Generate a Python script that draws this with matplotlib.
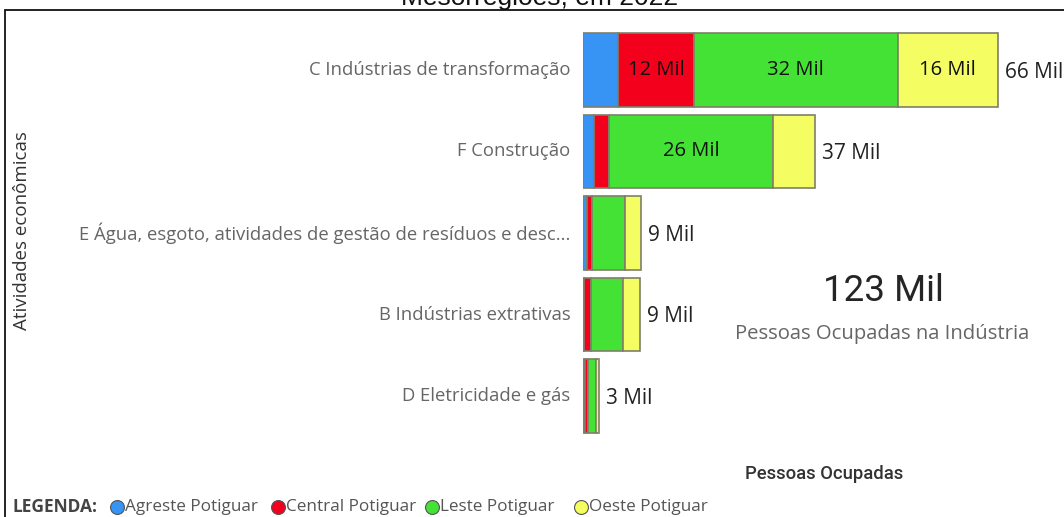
import numpy as np
import matplotlib
matplotlib.use("Agg")
import matplotlib.pyplot as plt
from matplotlib.lines import Line2D
from matplotlib.patches import Rectangle

# Data (thousands of people employed)
categories = [
    "C Indústrias de transformação",
    "F Construção",
    "E Água, esgoto, atividades de gestão de resíduos e desc...",
    "B Indústrias extrativas",
    "D Eletricidade e gás",
]
regions = ["Agreste Potiguar", "Central Potiguar", "Leste Potiguar", "Oeste Potiguar"]
agreste = [5.6, 1.8, 0.6, 0.1, 0.3]
central = [12.0, 2.3, 0.8, 1.1, 0.5]
leste = [32.4, 26.1, 5.3, 5.1, 1.3]
oeste = [16.0, 6.7, 2.5, 2.7, 0.5]
totals_text = ["66 Mil", "37 Mil", "9 Mil", "9 Mil", "3 Mil"]
total_all = "123 Mil"

colors = ["#3794f5", "#f2001c", "#45e236", "#f4fe62"]
edge = "#7f7f6a"

fig = plt.figure(figsize=(10.64, 5.17), dpi=100)
W, H = 1064, 517

# bar axes: full height, left edge at the bars' origin
ax = fig.add_axes([583 / W, 0, (W - 583) / W, 1])
ax.set_xlim(0, (W - 583) / 6.29)
ax.set_ylim((H - 70) / 81.5, -70 / 81.5)
ax.axis("off")

y = np.arange(len(categories))
series = [agreste, central, leste, oeste]
left = np.zeros(len(categories))
for vals, col in zip(series, colors):
    vals = np.array(vals)
    ax.barh(y, vals, left=left, height=0.9, color=col,
            edgecolor=edge, linewidth=1.2)
    for yi, v, l in zip(y, vals, left):
        if v >= 10:
            ax.text(l + v / 2, yi, f"{v:.0f} Mil", ha="center", va="center",
                    fontsize=14.5, family="Open Sans", color="#111111")
    left = left + vals

for yi, tot, txt in zip(y, left, totals_text):
    ax.text(tot + 1.1, yi + 0.03, txt, ha="left", va="center",
            fontsize=15, family="Open Sans", color="#222222")

for yi, cat in zip(y, categories):
    ax.text(-2.0, yi, cat, ha="right", va="center", fontsize=13.3,
            family="Open Sans", color="#666666")

# frame
fig.add_artist(Rectangle((5 / W, -0.1), 1.5, 1 - 10 / H + 0.1,
                         transform=fig.transFigure, fill=False,
                         edgecolor="#111111", linewidth=1.3))

# clipped title
fig.text(540 / W, 1 - 5 / H, "Mesorregiões, em 2022", ha="center",
         va="baseline", fontsize=19, family="Liberation Sans", color="#111111")

fig.text(22 / W, 1 - 231 / H, "Atividades econômicas", rotation=90,
         ha="center", va="center", fontsize=13.5, family="Open Sans",
         color="#333333")

# card
fig.text(883 / W, 1 - 291 / H, total_all, ha="center", va="center",
         fontsize=26.5, family="Roboto", color="#252525")
fig.text(882 / W, 1 - 334 / H, "Pessoas Ocupadas na Indústria", ha="center",
         va="center", fontsize=14.6, family="Open Sans", color="#666666")

fig.text(824 / W, 1 - 474 / H, "Pessoas Ocupadas", ha="center", va="center",
         fontsize=13.3, family="Roboto", weight="medium", color="#333333")

# legend
ly = 1 - 507 / H
fig.text(12 / W, ly, "LEGENDA:", ha="left", va="center", fontsize=12.5,
         family="Open Sans", weight="bold", color="#444444")
leg_x = [117, 278, 432, 581]
for lx, name, col in zip(leg_x, regions, colors):
    fig.add_artist(Line2D([lx / W], [ly], marker="o", markersize=10,
                          markerfacecolor=col, markeredgecolor="#555555",
                          markeredgewidth=0.8, transform=fig.transFigure))
    fig.text((lx + 8) / W, ly, name, ha="left", va="center", fontsize=12.3,
             family="Open Sans", color="#555555")

fig.savefig("out.png", dpi=100)
